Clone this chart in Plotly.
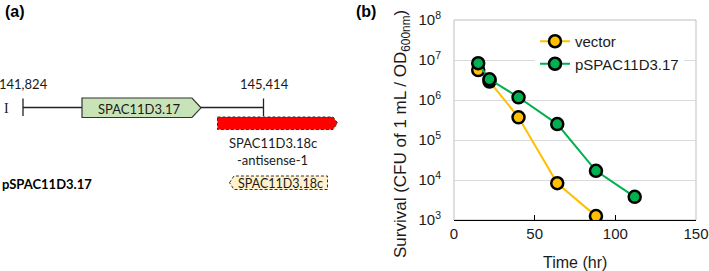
import plotly.graph_objects as go

# ---------------- data: panel (b) ----------------
time_vector = [15, 22, 40, 64, 88]
survival_vector = [5.6e6, 2.9e6, 3.7e5, 8.3e3, 1.25e3]
time_psp = [15, 22, 40, 64, 88, 112]
survival_psp = [8.3e6, 3.3e6, 1.17e6, 2.5e5, 1.7e4, 3.8e3]
series_names = ["vector", "pSPAC11D3.17"]
x_ticks = [0, 50, 100, 150]
y_ticks = [1e3, 1e4, 1e5, 1e6, 1e7, 1e8]
y_ticktext = ["10<sup>%d</sup>" % e for e in range(3, 9)]

# ---------------- labels: panel (a) ----------------
coord_labels = ["141,824", "145,414"]
chrom_label = "I"
gene_main = "SPAC11D3.17"
gene_antisense = ["SPAC11D3.18c", "-antisense-1"]
gene_neighbor = "SPAC11D3.18c"
construct_label = "pSPAC11D3.17"

W, H = 709, 271
ORANGE = "#ffc000"
GREEN = "#00b050"
LAB_FONT = "Lato"
PLOT_FONT = "Liberation Sans, Arial, sans-serif"

fig = go.Figure()

fig.add_trace(go.Scatter(
    x=time_vector, y=survival_vector, name=series_names[0],
    mode="lines+markers",
    line=dict(color=ORANGE, width=2),
    marker=dict(color=ORANGE, size=12, line=dict(color="black", width=2.5)),
    xaxis="x", yaxis="y"))
fig.add_trace(go.Scatter(
    x=time_psp, y=survival_psp, name=series_names[1],
    mode="lines+markers",
    line=dict(color=GREEN, width=2),
    marker=dict(color=GREEN, size=12, line=dict(color="black", width=2.5)),
    xaxis="x", yaxis="y"))

x0, x1 = 454, 696
yt, yb = 20, 220

shapes = []
shapes.append(dict(type="rect", xref="paper", yref="paper",
                   x0=x0 / W, x1=x1 / W, y0=1 - yb / H, y1=1 - yt / H,
                   line=dict(color="#bfbfbf", width=1), layer="below"))

def path(pts):
    return "M" + " L".join("%g,%g" % p for p in pts) + " Z"

ln = dict(color="#222222", width=1.3)
shapes += [
    dict(type="line", xref="x2", yref="y2", x0=23, x1=264, y0=107.5, y1=107.5, line=ln),
    dict(type="line", xref="x2", yref="y2", x0=23, x1=23, y0=98.5, y1=116, line=ln),
    dict(type="line", xref="x2", yref="y2", x0=263.5, x1=263.5, y0=98.5, y1=116, line=ln),
    dict(type="path", xref="x2", yref="y2",
         path=path([(82, 98), (192, 98), (201, 107.8), (192, 117.5), (82, 117.5)]),
         fillcolor="#c9e3b8", line=dict(color="#333333", width=1.2)),
    dict(type="path", xref="x2", yref="y2",
         path=path([(217.5, 117), (333, 117), (337.5, 123), (333, 129.5), (217.5, 129.5)]),
         fillcolor="#ff0000", line=dict(color="#333333", width=1, dash="3px,2px")),
    dict(type="path", xref="x2", yref="y2",
         path=path([(229.5, 182.7), (234, 176), (327.5, 176), (327.5, 189.5), (234, 189.5)]),
         fillcolor="#fff2cc", line=dict(color="#333333", width=1, dash="3px,2px")),
]

ann = []
def txt(x, y, s, size, family, bold=False, xanchor="center", color="#1a1a1a", angle=0):
    ann.append(dict(xref="x2", yref="y2", x=x, y=y, text=("<b>%s</b>" % s) if bold else s,
                    showarrow=False, xanchor=xanchor, yanchor="middle", textangle=angle,
                    font=dict(size=size, family=family, color=color)))

txt(3, 11, "(a)", 16, "Liberation Sans", bold=True, xanchor="left", color="black")
txt(354, 11, "(b)", 16, "Liberation Sans", bold=True, xanchor="left", color="black")
txt(23, 84, coord_labels[0], 13, LAB_FONT)
txt(264, 84, coord_labels[1], 13, LAB_FONT)
txt(6, 108, chrom_label, 14, "Liberation Serif")
txt(139, 108.5, gene_main, 13, LAB_FONT)
txt(272.5, 143, gene_antisense[0], 13, LAB_FONT)
txt(272.5, 159.5, gene_antisense[1], 13, LAB_FONT)
txt(280.5, 183, gene_neighbor, 12.5, LAB_FONT)
txt(0, 184, construct_label, 13, LAB_FONT, bold=True, xanchor="left", color="black")
txt(402, 134, "Survival (CFU of 1 mL / OD<sub>600nm</sub>)", 17, PLOT_FONT, angle=-90)
txt(575, 262, "Time (hr)", 16, PLOT_FONT)

fig.update_layout(
    width=W, height=H,
    margin=dict(l=0, r=0, t=0, b=0, pad=0, autoexpand=False),
    paper_bgcolor="white", plot_bgcolor="rgba(0,0,0,0)",
    showlegend=True,
    legend=dict(x=535 / W, y=1 - 25 / H, xanchor="left", yanchor="top",
                bgcolor="white", borderwidth=0,
                font=dict(size=15, family=PLOT_FONT, color="#1a1a1a"),
                tracegroupgap=0),
    xaxis=dict(domain=[x0 / W, x1 / W], range=[0, 150], tickvals=x_ticks,
               showgrid=False, zeroline=False, showline=True, linecolor="black", linewidth=1.3,
               ticks="inside", ticklen=5, tickcolor="black", tickwidth=1.2,
               tickfont=dict(size=15, family=PLOT_FONT, color="#1a1a1a"), anchor="y",
               automargin=False, fixedrange=True),
    yaxis=dict(domain=[1 - yb / H, 1 - yt / H], type="log", range=[3, 8],
               tickvals=y_ticks, ticktext=y_ticktext,
               showgrid=True, gridcolor="#d9d9d9", gridwidth=1,
               zeroline=False, showline=False, ticks="", ticklabelstandoff=12,
               tickfont=dict(size=15, family=PLOT_FONT, color="#1a1a1a"), anchor="x",
               automargin=False, fixedrange=True),
    xaxis2=dict(domain=[0, 1], range=[0, W], visible=False, anchor="y2",
                automargin=False, fixedrange=True),
    yaxis2=dict(domain=[0, 1], range=[H, 0], visible=False, anchor="x2",
                automargin=False, fixedrange=True),
    shapes=shapes,
    annotations=ann,
)

fig.add_trace(go.Scatter(x=[0], y=[0], xaxis="x2", yaxis="y2", mode="markers",
                         marker=dict(opacity=0), showlegend=False, hoverinfo="skip"))

fig.write_html(
    "out.html",
    config={"displayModeBar": False, "staticPlot": True},
    post_script="document.body.style.margin='0';document.body.style.padding='0';"
                "document.documentElement.style.overflow='hidden';",
)
